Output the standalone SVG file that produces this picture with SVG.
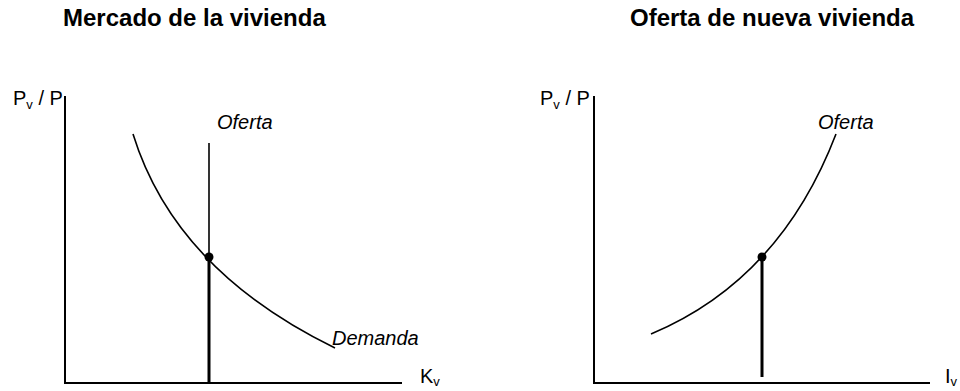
<svg xmlns="http://www.w3.org/2000/svg" width="960" height="391" viewBox="0 0 960 391">
<style>
.t{font-family:"Liberation Sans",Arial,sans-serif;font-weight:bold;font-size:24px;fill:#000}
.l{font-family:"Liberation Sans",Arial,sans-serif;font-size:20px;fill:#000}
.i{font-family:"Liberation Sans",Arial,sans-serif;font-style:italic;font-size:20px;fill:#000}
.ax{stroke:#000;stroke-width:2;fill:none}
.cv{stroke:#000;stroke-width:1.6;fill:none}
.thk{stroke:#000;stroke-width:3;fill:none}
</style>
<rect width="960" height="391" fill="#fff"/>
<g id="left-chart">
  <text class="t" x="63" y="26">Mercado de la vivienda</text>
  <g id="left-axes">
    <path class="ax" d="M65,96 V383 H402"/>
    <text class="l" x="13" y="105">P<tspan font-size="13" dy="4">v</tspan><tspan dy="-4"> / P</tspan></text>
    <text class="l" x="420" y="383">K<tspan font-size="13" dy="3">v</tspan></text>
  </g>
  <g id="left-oferta">
    <line class="cv" x1="209" y1="143" x2="209" y2="257"/>
    <line class="thk" x1="209" y1="257" x2="209" y2="383"/>
    <text class="i" x="217" y="129">Oferta</text>
  </g>
  <g id="left-demanda">
    <path class="cv" d="M133,134 Q175,270 335,348"/>
    <text class="i" x="332" y="345">Demanda</text>
  </g>
  <circle id="left-eq" cx="209" cy="257" r="4.5" fill="#000"/>
</g>
<g id="right-chart">
  <text class="t" x="630" y="26">Oferta de nueva vivienda</text>
  <g id="right-axes">
    <path class="ax" d="M594,96 V383 H930"/>
    <text class="l" x="540" y="105">P<tspan font-size="13" dy="4">v</tspan><tspan dy="-4"> / P</tspan></text>
    <text class="l" x="945" y="383">I<tspan font-size="13" dy="3">v</tspan></text>
  </g>
  <g id="right-oferta">
    <path class="cv" d="M651,334 Q780,280 836,134"/>
    <text class="i" x="818" y="129">Oferta</text>
  </g>
  <g id="connectors">
    <line class="thk" x1="762" y1="257" x2="762" y2="377"/>
  </g>
  <circle id="right-eq" cx="762" cy="257" r="4.5" fill="#000"/>
</g>
</svg>
